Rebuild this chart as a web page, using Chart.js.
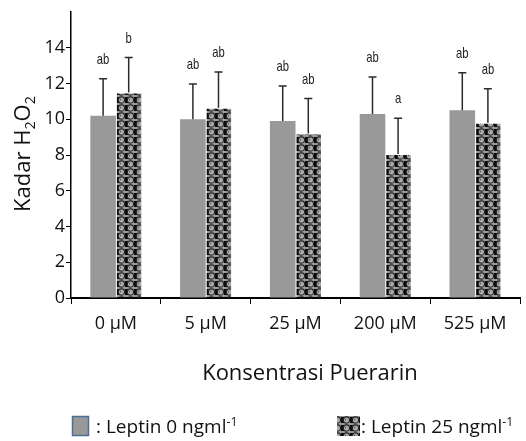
<!DOCTYPE html>
<html><head><meta charset="utf-8">
<script src="https://cdn.jsdelivr.net/npm/chart.js@4"></script>
<style>html,body{margin:0;padding:0;background:#fff}#wrap{width:526px;height:441px;position:relative}</style>
</head><body><div id="wrap"><canvas id="c"></canvas></div>
<script>
// H2O2 levels per puerarin concentration, with and without leptin
const categories = ['0 µM', '5 µM', '25 µM', '200 µM', '525 µM'];
const leptin0 = [10.2, 10.0, 9.9, 10.3, 10.5];
const leptin0Err = [2.07, 1.97, 1.96, 2.07, 2.1];
const leptin25 = [11.5, 10.65, 9.2, 8.05, 9.8];
const leptin25Err = [1.95, 2.0, 1.96, 2.0, 1.9];
const leptin0Letters = ['ab', 'ab', 'ab', 'ab', 'ab'];
const leptin25Letters = ['b', 'ab', 'ab', 'a', 'ab'];
const yTickValues = [0, 2, 4, 6, 8, 10, 12, 14];

const FONT = '"Open Sans", "Noto Sans", sans-serif';

// patterned fill for the leptin 25 series: ringed circles with dark blocks between
function makePattern() {
  const t = document.createElement('canvas');
  t.width = 9; t.height = 8;
  const g = t.getContext('2d');
  g.fillStyle = '#9a9a9a';
  g.fillRect(0, 0, 9, 8);
  g.fillStyle = '#0d0d0d';
  g.fillRect(0, 1, 2, 6);
  g.fillRect(8, 1, 1, 6);
  g.beginPath(); g.arc(4.5, 4, 3.1, 0, Math.PI * 2);
  g.fillStyle = '#a9a9a9'; g.fill();
  g.strokeStyle = '#262626'; g.lineWidth = 1.1; g.stroke();
  g.fillStyle = '#333'; g.fillRect(3, 3, 1, 1);
  return g.createPattern(t, 'repeat');
}
const pattern = makePattern();

const errorBars = {
  id: 'errorBars',
  afterDatasetsDraw(chart) {
    const ctx = chart.ctx;
    const ys = chart.scales.y;
    const errs = [leptin0Err, leptin25Err];
    const letters = [leptin0Letters, leptin25Letters];
    chart.data.datasets.forEach((ds, i) => {
      const meta = chart.getDatasetMeta(i);
      meta.data.forEach((bar, j) => {
        const v = ds.data[j];
        const top = ys.getPixelForValue(v + errs[i][j]);
        const base = ys.getPixelForValue(v);
        ctx.save();
        ctx.strokeStyle = '#2b2b2b';
        ctx.lineWidth = 1.5;
        ctx.beginPath();
        ctx.moveTo(bar.x, base);
        ctx.lineTo(bar.x, top);
        ctx.moveTo(bar.x - 4, top);
        ctx.lineTo(bar.x + 4, top);
        ctx.stroke();
        // significance letters, condensed
        ctx.translate(bar.x, top - 19);
        ctx.scale(0.75, 1);
        ctx.fillStyle = '#222';
        ctx.font = '15px "Liberation Sans", Arial, sans-serif';
        ctx.textAlign = 'center';
        ctx.textBaseline = 'middle';
        ctx.fillText(letters[i][j], 0, 0);
        ctx.restore();
      });
    });
  }
};

// draws text runs with sub/superscripts along the baseline
function drawRuns(ctx, runs, x, y, size, align) {
  const widths = runs.map(r => {
    ctx.font = (r.sub || r.sup ? size * 0.65 : size) + 'px ' + FONT;
    return ctx.measureText(r.t).width;
  });
  const total = widths.reduce((a, b) => a + b, 0);
  let cx = align === 'center' ? x - total / 2 : x;
  runs.forEach((r, k) => {
    ctx.font = (r.sub || r.sup ? size * 0.65 : size) + 'px ' + FONT;
    const dy = r.sub ? size * 0.22 : (r.sup ? -size * 0.38 : 0);
    ctx.fillText(r.t, cx, y + dy);
    cx += widths[k];
  });
}

const decorations = {
  id: 'decorations',
  afterDraw(chart) {
    const ctx = chart.ctx;
    ctx.save();
    ctx.fillStyle = '#111';
    ctx.textBaseline = 'alphabetic';
    ctx.textAlign = 'left';
    // x title
    drawRuns(ctx, [{ t: 'Konsentrasi Puerarin' }], 310, 380, 22, 'center');
    // y title
    ctx.save();
    ctx.translate(30, 154);
    ctx.rotate(-Math.PI / 2);
    drawRuns(ctx, [{ t: 'Kadar H' }, { t: '2', sub: true }, { t: 'O' }, { t: '2', sub: true }], 0, 0, 22, 'center');
    ctx.restore();
    // legend
    ctx.fillStyle = '#999';
    ctx.fillRect(72, 416, 17, 20);
    ctx.strokeStyle = '#4f6d9c';
    ctx.lineWidth = 1.5;
    ctx.strokeRect(72.5, 416.5, 16, 19);
    ctx.fillStyle = pattern;
    ctx.fillRect(337, 416, 23, 20);
    ctx.fillStyle = '#111';
    drawRuns(ctx, [{ t: ': Leptin 0 ngml' }, { t: '-1', sup: true }], 96, 433, 19, 'left');
    drawRuns(ctx, [{ t: ': Leptin 25 ngml' }, { t: '-1', sup: true }], 361, 433, 19, 'left');
    ctx.restore();
  }
};

new Chart(document.getElementById('c'), {
  type: 'bar',
  data: {
    labels: categories,
    datasets: [
      { label: 'Leptin 0 ngml-1', data: leptin0, backgroundColor: '#999999', borderWidth: 0 },
      { label: 'Leptin 25 ngml-1', data: leptin25, backgroundColor: pattern,
        borderColor: '#ffffff', borderWidth: { top: 1, left: 1, right: 0, bottom: 0 } }
    ]
  },
  options: {
    responsive: true,
    maintainAspectRatio: false,
    animation: false,
    devicePixelRatio: 1,
    layout: { padding: { left: 0, right: 6, top: 12, bottom: 0 } },
    plugins: { legend: { display: false }, tooltip: { enabled: false } },
    datasets: { bar: { categoryPercentage: 0.57, barPercentage: 1.0 } },
    scales: {
      x: {
        grid: { drawOnChartArea: false, offset: true, tickLength: 6, color: '#000', tickWidth: 1 },
        border: { color: '#000', width: 2 },
        ticks: { color: '#111', font: { family: FONT, size: 18 }, padding: 9, maxRotation: 0 },
        afterFit(s) { s.height = 143; }
      },
      y: {
        min: 0, max: 16,
        afterBuildTicks(s) { s.ticks = yTickValues.map(v => ({ value: v })); },
        grid: { drawOnChartArea: false, tickLength: 5, color: '#000', tickWidth: 1 },
        border: { color: '#000', width: 1.5 },
        ticks: { color: '#111', font: { family: FONT, size: 18 }, padding: 1 },
        afterFit(s) { s.width = 71; }
      }
    }
  },
  plugins: [errorBars, decorations]
});
</script>
</body></html>
